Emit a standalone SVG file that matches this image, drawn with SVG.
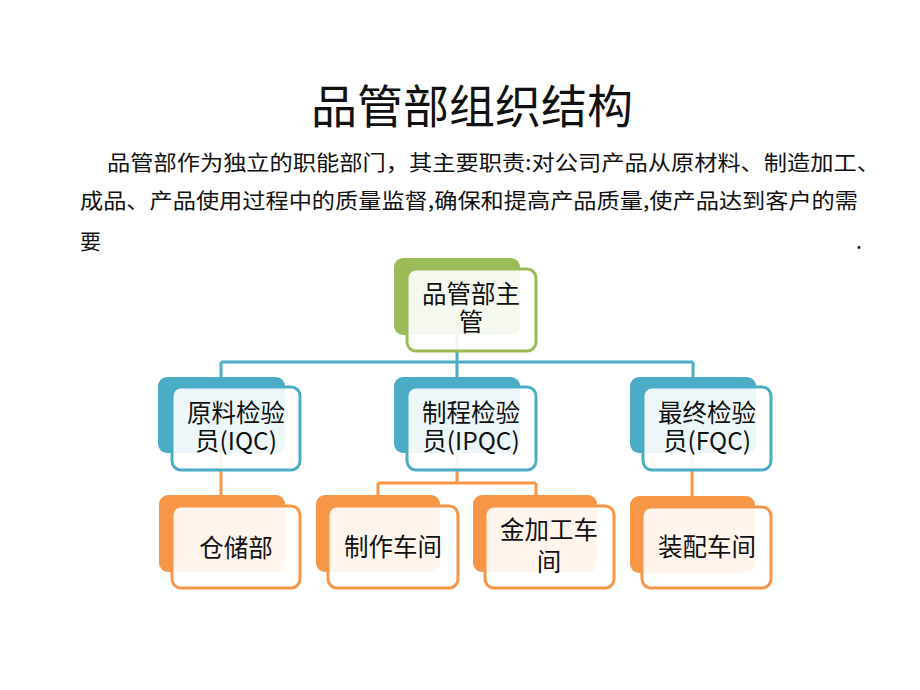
<svg xmlns="http://www.w3.org/2000/svg" width="920" height="690" viewBox="0 0 920 690">
<style>
text{font-family:"Noto Sans CJK SC","Liberation Sans",sans-serif;fill:#111;}
.title{font-size:46px;text-anchor:middle;}
.para{font-size:21px;}
.lbl{font-size:24.5px;text-anchor:middle;}
.back{stroke:none;}
.front{fill:#fff;fill-opacity:0.9;stroke-width:3;}
.g .back{fill:#9bbb59;} .g .front{stroke:#9bbb59;}
.b .back{fill:#4bacc6;} .b .front{stroke:#4bacc6;}
.o .back{fill:#f79646;} .o .front{stroke:#f79646;}
.cb{fill:none;stroke:#4bacc6;stroke-width:3;}
.co{fill:none;stroke:#f79646;stroke-width:3;}
</style>
<rect width="920" height="690" fill="#fff"/>
<text class="title" x="472" y="123">品管部组织结构</text>
<text class="para" x="107" y="170" textLength="773" lengthAdjust="spacingAndGlyphs">品管部作为独立的职能部门，其主要职责:对公司产品从原材料、制造加工、</text>
<text class="para" x="80" y="208" textLength="778" lengthAdjust="spacingAndGlyphs">成品、产品使用过程中的质量监督,确保和提高产品质量,使产品达到客户的需</text>
<text class="para" x="80" y="249">要</text>
<text class="para" x="856" y="249">.</text>
<g id="connectors">
<path class="cb" d="M457 335 V362 M221 362 H693 M221 362 V377 M457 362 V377 M693 362 V377"/>
<path class="co" d="M221 453 V495 M457 453 V483 M378 483 H536 M378 483 V495 M536 483 V495 M692 453 V496"/>
</g>
<g id="n-top" class="g">
<rect class="back" x="394" y="258" width="126" height="77" rx="9"/>
<rect class="front" x="407" y="269" width="129" height="82" rx="9"/>
<text class="lbl" x="471" y="303">品管部主</text>
<text class="lbl" x="471" y="331">管</text>
</g>
<g id="n-iqc" class="b">
<rect class="back" x="158" y="377" width="127" height="76" rx="9"/>
<rect class="front" x="172" y="387" width="128" height="83" rx="9"/>
<text class="lbl" x="236" y="422">原料检验</text>
<text class="lbl" x="236" y="450">员(IQC)</text>
</g>
<g id="n-ipqc" class="b">
<rect class="back" x="394" y="377" width="126" height="76" rx="9"/>
<rect class="front" x="407" y="387" width="129" height="83" rx="9"/>
<text class="lbl" x="471" y="422">制程检验</text>
<text class="lbl" x="471" y="450">员(IPQC)</text>
</g>
<g id="n-fqc" class="b">
<rect class="back" x="630" y="377" width="126" height="76" rx="9"/>
<rect class="front" x="643" y="387" width="128" height="83" rx="9"/>
<text class="lbl" x="707" y="422">最终检验</text>
<text class="lbl" x="707" y="450">员(FQC)</text>
</g>
<g id="n-store" class="o">
<rect class="back" x="159" y="495" width="126" height="77" rx="9"/>
<rect class="front" x="172" y="506" width="128" height="82" rx="9"/>
<text class="lbl" x="236" y="557">仓储部</text>
</g>
<g id="n-make" class="o">
<rect class="back" x="316" y="495" width="124" height="77" rx="9"/>
<rect class="front" x="328" y="506" width="130" height="82" rx="9"/>
<text class="lbl" x="393" y="556">制作车间</text>
</g>
<g id="n-metal" class="o">
<rect class="back" x="473" y="495" width="124" height="77" rx="9"/>
<rect class="front" x="485" y="506" width="129" height="82" rx="9"/>
<text class="lbl" x="549" y="539">金加工车</text>
<text class="lbl" x="549" y="571">间</text>
</g>
<g id="n-assy" class="o">
<rect class="back" x="630" y="496" width="125" height="77" rx="9"/>
<rect class="front" x="642" y="507" width="129" height="81" rx="9"/>
<text class="lbl" x="707" y="556">装配车间</text>
</g>
</svg>
